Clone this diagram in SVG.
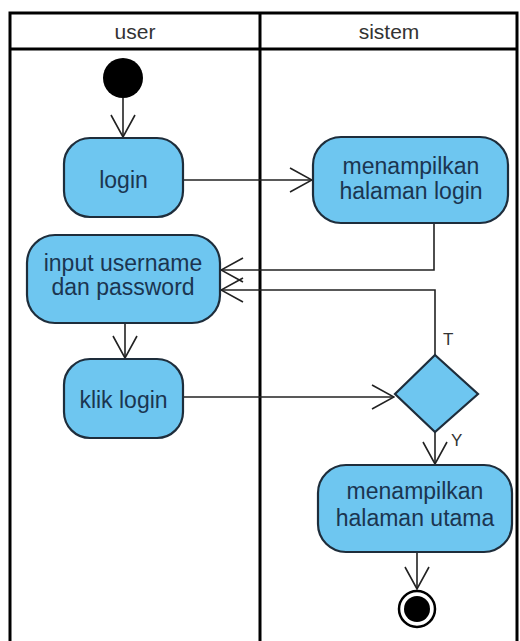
<svg xmlns="http://www.w3.org/2000/svg" width="520" height="641" viewBox="0 0 520 641">
<style>
.lane{fill:none;stroke:#000;stroke-width:3}
.node{fill:#6EC6F0;stroke:#1E2D3B;stroke-width:2.2}
.lbl{font-family:"Liberation Sans",Arial,sans-serif;font-size:23px;fill:#1B3550;text-anchor:middle}
.hdr{font-family:"Liberation Sans",Arial,sans-serif;font-size:21px;fill:#333;text-anchor:middle}
.edge{fill:none;stroke:#222;stroke-width:1.6}
.small{font-family:"Liberation Sans",Arial,sans-serif;font-size:17px;fill:#333}
</style>
<defs>
<marker id="open" viewBox="0 0 24 26" refX="23" refY="13" markerWidth="24" markerHeight="26" markerUnits="userSpaceOnUse" orient="auto">
<path d="M1,1 L23,13 L1,25" fill="none" stroke="#222" stroke-width="1.6"/>
</marker>
</defs>
<rect width="520" height="641" fill="#fff"/>
<g id="swimlanes">
<path class="lane" d="M10,645 V13 H517 V645 M10,49 H517 M260,13 V645"/>
<text class="hdr" x="135" y="39">user</text>
<text class="hdr" x="389" y="39">sistem</text>
</g>
<g id="connectors">
<path class="edge" d="M123,98 V137" marker-end="url(#open)"/>
<path class="edge" d="M183,180 H312" marker-end="url(#open)"/>
<path class="edge" d="M434,223 V270 H221" marker-end="url(#open)"/>
<path class="edge" d="M435,355 V290 H221" marker-end="url(#open)"/>
<path class="edge" d="M125,323 V358" marker-end="url(#open)"/>
<path class="edge" d="M183,397 H394" marker-end="url(#open)"/>
<path class="edge" d="M435,432 V464" marker-end="url(#open)"/>
<path class="edge" d="M417,552 V589" marker-end="url(#open)"/>
<text class="small" x="443" y="345">T</text>
<text class="small" x="451" y="446">Y</text>
</g>
<g id="start"><circle cx="123" cy="78" r="20" fill="#000"/></g>
<g id="login">
<rect class="node" x="64" y="138" width="119" height="79" rx="26"/>
<text class="lbl" x="123.5" y="188">login</text>
</g>
<g id="menampilkan-login">
<rect class="node" x="313" y="137" width="195" height="86" rx="28"/>
<text class="lbl" x="411" y="174">menampilkan</text>
<text class="lbl" x="411" y="199">halaman login</text>
</g>
<g id="input">
<rect class="node" x="27" y="235" width="193" height="88" rx="28"/>
<text class="lbl" x="123" y="271">input username</text>
<text class="lbl" x="123" y="295">dan password</text>
</g>
<g id="klik-login">
<rect class="node" x="64" y="359" width="119" height="79" rx="26"/>
<text class="lbl" x="123.5" y="408">klik login</text>
</g>
<g id="decision">
<polygon class="node" points="435,355 478,394 435,432 395,394"/>
</g>
<g id="menampilkan-utama">
<rect class="node" x="318" y="465" width="194" height="87" rx="28"/>
<text class="lbl" x="415" y="499">menampilkan</text>
<text class="lbl" x="415" y="526">halaman utama</text>
</g>
<g id="end">
<circle cx="417" cy="609" r="18" fill="#fff" stroke="#000" stroke-width="2.5"/>
<circle cx="417" cy="609" r="13" fill="#000"/>
</g>
</svg>
